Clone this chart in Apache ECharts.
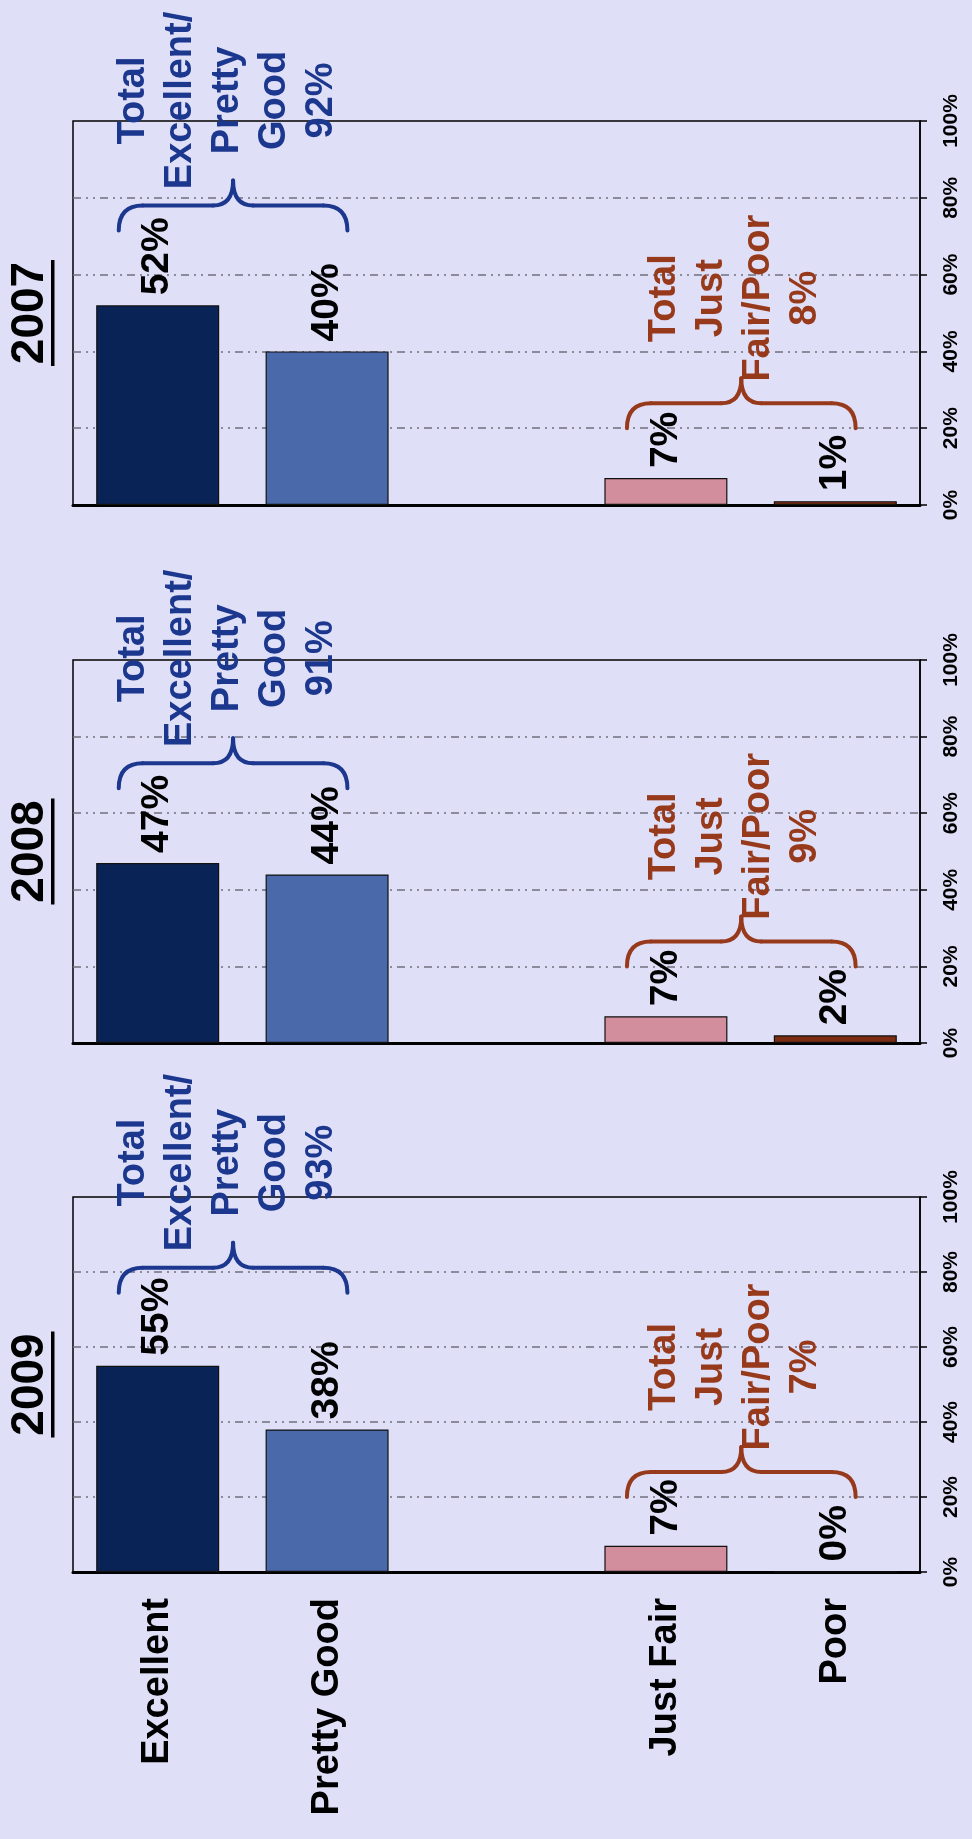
<!DOCTYPE html>
<html>
<head>
<meta charset="utf-8">
<script src="https://cdn.jsdelivr.net/npm/echarts@6/dist/echarts.min.js"></script>
<style>
  html, body { margin: 0; padding: 0; background: #e0dff8; }
  #chart { width: 972px; height: 1839px; }
</style>
</head>
<body>
<div id="chart"></div>
<script>
// ---- data ----
const categories = ['Excellent', 'Pretty Good', '', 'Just Fair', 'Poor'];
const years = ['2007', '2008', '2009'];
const values2007 = [52, 40, null, 7, 1];
const values2008 = [47, 44, null, 7, 2];
const values2009 = [55, 38, null, 7, 0];
const totalExcellentGood = [92, 91, 93];
const totalFairPoor = [8, 9, 7];
const axisTicks = [0, 20, 40, 60, 80, 100];

// ---- styling / layout ----
const panelValues = [values2007, values2008, values2009];
const barColors = ['#0a2357', '#4a69aa', '#ffffff', '#d38e9e', '#7b2c12'];
const blueInk = '#1b378e';
const redInk = '#973a1c';
const FONT = '"Liberation Sans", Arial, sans-serif';
const grids = [
  { left: 73, right: 52, top: 121, height: 384 },
  { left: 73, right: 52, top: 660, height: 383 },
  { left: 73, right: 52, top: 1197, height: 375 }
];

function braceRenderer(texts, colors) {
  return function (params, api) {
    const a = api.value(0), b = api.value(1), lvl = api.value(2);
    const pa = api.coord([a, lvl]);
    const pb = api.coord([b, lvl]);
    const band = api.size([1, 0])[0];
    const L = pa[0] - 0.23 * band;
    const R = pb[0] + 0.12 * band;
    const M = (L + R) / 2;
    const ty = pa[1], hy = ty - 25, cy = ty - 50;
    const r = 24, rc = 20;
    const color = colors[params.dataIndex];
    const st = { stroke: color, lineWidth: 4, fill: null, lineCap: 'round' };
    return {
      type: 'group',
      children: [
        { type: 'bezierCurve', shape: { x1: L, y1: ty, x2: L + r, y2: hy, cpx1: L, cpy1: hy }, style: st },
        { type: 'line', shape: { x1: L + r, y1: hy, x2: M - rc, y2: hy }, style: st },
        { type: 'bezierCurve', shape: { x1: M - rc, y1: hy, x2: M, y2: cy, cpx1: M, cpy1: hy }, style: st },
        { type: 'bezierCurve', shape: { x1: M, y1: cy, x2: M + rc, y2: hy, cpx1: M, cpy1: hy }, style: st },
        { type: 'line', shape: { x1: M + rc, y1: hy, x2: R - r, y2: hy }, style: st },
        { type: 'bezierCurve', shape: { x1: R - r, y1: hy, x2: R, y2: ty, cpx1: R, cpy1: hy }, style: st },
        {
          type: 'text', x: M - 6, y: cy - 80, rotation: Math.PI / 2,
          style: {
            text: texts[params.dataIndex], fill: color,
            fontSize: 38, fontWeight: 'bold', fontFamily: FONT,
            align: 'center', verticalAlign: 'middle', lineHeight: 47
          }
        }
      ]
    };
  };
}

const xAxes = [], yAxes = [], series = [], graphics = [];
grids.forEach((g, i) => {
  xAxes.push({
    type: 'category', gridIndex: i, data: categories,
    axisLine: { show: true, lineStyle: { color: '#000', width: 3 } },
    axisTick: { show: false },
    axisLabel: {
      show: i === 2, rotate: 90, margin: 26, color: '#000',
      fontSize: 38, fontWeight: 'bold', fontFamily: FONT
    },
    splitLine: { show: false }
  });
  yAxes.push({
    type: 'value', gridIndex: i, position: 'right', min: 0, max: 100, interval: 20,
    axisLine: { show: true, lineStyle: { color: '#000', width: 1.5 } },
    axisTick: { show: true, length: 7, lineStyle: { color: '#000', width: 1.5 } },
    axisLabel: {
      rotate: 90, margin: 21, color: '#000', fontSize: 21, fontWeight: 'bold',
      fontFamily: FONT, formatter: v => v + '%'
    },
    splitLine: {
      show: true, showMinLine: false, showMaxLine: false,
      lineStyle: { color: '#70707e', width: 1.5, type: [8, 5, 2, 5, 2, 5] }
    }
  });
  const vals = panelValues[i];
  series.push({
    type: 'bar', xAxisIndex: i, yAxisIndex: i, barWidth: 123,
    data: vals.map((v, k) => ({
      value: v,
      itemStyle: { color: barColors[k], borderColor: '#111', borderWidth: 1.2 }
    })),
    label: {
      show: true, position: 'top', rotate: 90, align: 'left', verticalAlign: 'middle',
      distance: 10, color: '#000', fontSize: 39, fontWeight: 'bold', fontFamily: FONT,
      formatter: p => (p.value == null ? '' : p.value + '%')
    },
    silent: true
  });
  const blueLevel = Math.max(vals[0], vals[1]) + 19.5;
  const redLevel = Math.max(vals[3], vals[4]) + 13;
  const texts = [
    'Total\nExcellent/\nPretty\nGood\n' + totalExcellentGood[i] + '%',
    'Total\nJust\nFair/Poor\n' + totalFairPoor[i] + '%'
  ];
  series.push({
    type: 'custom', xAxisIndex: i, yAxisIndex: i, silent: true, clip: false, z: 5,
    data: [[0, 1, blueLevel], [3, 4, redLevel]],
    encode: { x: 0, y: 2 },
    renderItem: braceRenderer(texts, [blueInk, redInk])
  });
  const cy = g.top + g.height / 2;
  graphics.push({
    type: 'text', x: 30, y: cy, rotation: Math.PI / 2,
    style: {
      text: years[i], fill: '#000', fontSize: 46, fontWeight: 'bold', fontFamily: FONT,
      align: 'center', verticalAlign: 'middle'
    }
  });
  graphics.push({
    type: 'rect', shape: { x: 51, y: cy - 53, width: 3.5, height: 106 },
    style: { fill: '#000' }
  });
});

const chart = echarts.init(document.getElementById('chart'), null, { renderer: 'canvas' });
chart.setOption({
  animation: false,
  backgroundColor: '#e0dff8',
  textStyle: { fontFamily: FONT },
  grid: grids.map(g => Object.assign({ show: true, borderColor: '#000', borderWidth: 1.5, backgroundColor: 'transparent' }, g)),
  xAxis: xAxes,
  yAxis: yAxes,
  series: series,
  graphic: graphics
});
</script>
</body>
</html>
